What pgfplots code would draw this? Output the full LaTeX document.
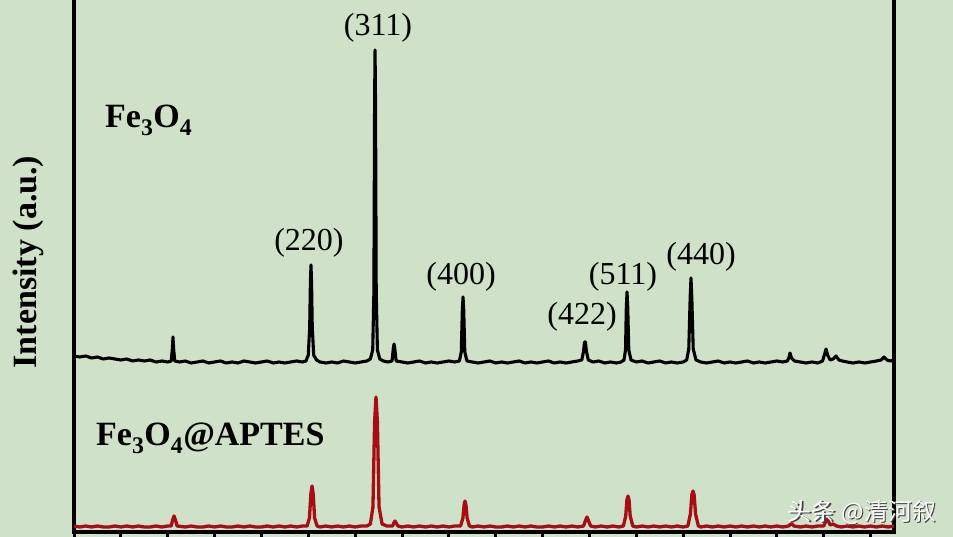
\documentclass[border=0pt]{standalone}
\usepackage{pgfplots}
\pgfplotsset{compat=1.18}
\usepackage{fontspec}
\setmainfont{Liberation Serif}
\newfontfamily\cjk{Noto Sans CJK SC}
\definecolor{bg}{RGB}{207,225,200}
\definecolor{xrdred}{RGB}{168,12,20}
\begin{document}
\begin{tikzpicture}
\useasboundingbox (0,0) rectangle (953pt,537pt);
\fill[bg] (0,0) rectangle (953pt,537pt);
\begin{axis}[
    at={(74pt,5pt)}, anchor=south west,
    scale only axis,
    width=820pt, height=545pt,
    xmin=10, xmax=80,
    ymin=0, ymax=545,
    axis line style={line width=3.5pt},
    xtick={10,14,...,78},
    xticklabels={},
    ytick=\empty,
    xtick pos=left,
    tick align=outside,
    major tick length=12pt,
    tick style={line width=3pt, black},
    clip=false
]
% Fe3O4
\addplot[black, line width=3.1pt, line join=round, mark=none] coordinates {
(10.0,176)(10.5,175)(11.0,176)(11.5,174)(12.0,175)(12.5,173)(13.0,174)(13.5,173)(14.0,172)(14.5,173)(15.0,171)(15.5,172)(16.0,171)(16.5,172)(17.0,170)(17.5,171)(18.0,170)(18.3,171)(18.4,184)(18.45,195)(18.5,184)(18.6,171)(19.0,170)(19.5,171)(20.0,169)(20.5,170)(21.0,171)(21.5,169)(22.0,170)(22.5,171)(23.0,169)(23.5,170)(24.0,169)(24.5,171)(25.0,170)(25.5,169)(26.0,170)(26.5,171)(27.0,169)(27.5,170)(28.0,169)(28.5,170)(29.0,171)(29.5,170)(29.8,171)(30.0,177)(30.12,205)(30.18,250)(30.23,267)(30.28,250)(30.34,205)(30.46,177)(30.7,172)(31.0,170)(31.5,169)(32.0,170)(32.5,169)(33.0,171)(33.5,170)(34.0,169)(34.5,170)(35.0,171)(35.3,173)(35.5,182)(35.6,240)(35.66,430)(35.70,482)(35.74,430)(35.8,240)(35.9,182)(36.1,173)(36.4,171)(36.8,170)(37.15,171)(37.26,184)(37.32,188)(37.38,184)(37.5,171)(38.0,170)(38.5,169)(39.0,170)(39.5,171)(40.0,169)(40.5,170)(41.0,169)(41.5,170)(42.0,171)(42.5,170)(42.9,171)(43.06,180)(43.15,222)(43.21,235)(43.27,222)(43.36,180)(43.55,171)(44.0,170)(44.5,169)(45.0,170)(45.5,171)(46.0,169)(46.5,170)(47.0,169)(47.5,170)(48.0,171)(48.5,169)(49.0,170)(49.5,169)(50.0,170)(50.5,171)(51.0,169)(51.5,170)(52.0,169)(52.5,170)(53.0,171)(53.35,172)(53.5,181)(53.58,190)(53.66,190)(53.74,181)(53.9,172)(54.3,170)(54.8,171)(55.3,169)(55.8,170)(56.3,169)(56.7,170)(56.95,172)(57.08,182)(57.15,225)(57.21,240)(57.27,225)(57.36,182)(57.55,172)(58.0,170)(58.5,171)(59.0,169)(59.5,170)(60.0,171)(60.5,169)(61.0,170)(61.5,169)(62.0,170)(62.3,172)(62.48,183)(62.6,235)(62.67,254)(62.74,235)(62.86,183)(63.1,172)(63.5,170)(64.0,169)(64.5,170)(65.0,171)(65.5,169)(66.0,170)(66.5,169)(67.0,170)(67.5,171)(68.0,169)(68.5,170)(69.0,169)(69.5,170)(70.0,171)(70.5,170)(70.9,171)(71.05,175)(71.12,179)(71.25,174)(71.5,171)(72.0,170)(72.5,169)(73.0,170)(73.5,169)(73.9,171)(74.08,178)(74.2,183)(74.33,177)(74.55,172)(74.8,173)(75.05,176)(75.3,172)(75.6,171)(76.0,170)(76.5,169)(77.0,170)(77.5,169)(78.0,170)(78.5,171)(78.9,172)(79.15,175)(79.4,172)(79.7,171)(80.0,172)
};
% Fe3O4@APTES
\addplot[xrdred, line width=3.3pt, line join=round, mark=none] coordinates {
(10.0,6)(10.5,5)(11.0,6)(11.5,5)(12.0,6)(12.5,5)(13.0,5)(13.5,6)(14.0,5)(14.5,6)(15.0,5)(15.5,6)(16.0,5)(16.5,5)(17.0,6)(17.5,5)(18.0,6)(18.3,6)(18.42,12)(18.54,16)(18.66,12)(18.8,6)(19.5,5)(20.0,6)(20.5,5)(21.0,5)(21.5,6)(22.0,5)(22.5,6)(23.0,5)(23.5,5)(24.0,6)(24.5,5)(25.0,6)(25.5,5)(26.0,5)(26.5,6)(27.0,5)(27.5,6)(28.0,5)(28.5,6)(29.0,5)(29.5,6)(29.9,6)(30.1,14)(30.22,38)(30.32,46)(30.42,38)(30.54,14)(30.75,6)(31.0,5)(31.5,6)(32.0,5)(32.5,6)(33.0,5)(33.5,6)(34.0,5)(34.5,6)(35.0,6)(35.3,8)(35.52,25)(35.66,110)(35.78,135)(35.9,110)(36.04,25)(36.3,8)(36.7,6)(37.2,6)(37.3,9)(37.4,11)(37.5,9)(37.65,6)(38.0,5)(38.5,6)(39.0,5)(39.5,6)(40.0,5)(40.5,6)(41.0,5)(41.5,6)(42.0,5)(42.5,6)(43.0,6)(43.2,14)(43.3,27)(43.38,31)(43.46,27)(43.56,14)(43.75,6)(44.0,5)(44.5,6)(45.0,5)(45.5,6)(46.0,5)(46.5,5)(47.0,6)(47.5,5)(48.0,6)(48.5,5)(49.0,6)(49.5,5)(50.0,5)(50.5,6)(51.0,5)(51.5,6)(52.0,5)(52.5,6)(53.0,5)(53.5,6)(53.65,11)(53.79,15)(53.93,11)(54.1,6)(54.5,5)(55.0,6)(55.5,5)(56.0,6)(56.5,5)(56.9,6)(57.1,16)(57.2,32)(57.29,36)(57.38,32)(57.48,16)(57.7,6)(58.0,5)(58.5,6)(59.0,5)(59.5,6)(60.0,5)(60.5,6)(61.0,5)(61.5,6)(62.0,5)(62.4,6)(62.62,18)(62.74,37)(62.84,41)(62.94,37)(63.06,18)(63.3,6)(63.5,5)(64.0,6)(64.5,5)(65.0,6)(65.5,5)(66.0,6)(66.5,5)(67.0,6)(67.5,5)(68.0,6)(68.5,5)(69.0,6)(69.5,5)(70.0,6)(70.5,5)(71.0,6)(71.2,8)(71.29,8)(71.45,6)(72.0,5)(72.5,6)(73.0,5)(73.5,6)(74.0,6)(74.18,11)(74.28,13)(74.38,11)(74.55,7)(74.8,8)(75.1,6)(75.5,5)(76.0,6)(76.5,5)(77.0,6)(77.5,5)(78.0,6)(78.5,5)(79.0,6)(79.5,5)(80.0,6)
};
% peak indices
\begin{scope}[every node/.style={inner sep=0pt, font=\fontsize{32}{36}\selectfont}]
\node at (axis cs:35.95,504) {(311)};
\node at (axis cs:30.06,289) {(220)};
\node at (axis cs:43.04,255) {(400)};
\node at (axis cs:53.37,215) {(422)};
\node at (axis cs:56.87,255) {(511)};
\node at (axis cs:63.53,275) {(440)};
\end{scope}
\end{axis}
% sample names and axis title
\node[anchor=base west, inner sep=0pt, font=\bfseries\fontsize{34}{40}\selectfont] at (105pt,409pt) {Fe\textsubscript{3}O\textsubscript{4}};
\node[anchor=base west, inner sep=0pt, font=\bfseries\fontsize{34}{40}\selectfont] at (96pt,91pt) {Fe\textsubscript{3}O\textsubscript{4}@APTES};
\node[rotate=90, inner sep=0pt, font=\bfseries\fontsize{34}{40}\selectfont] at (28pt,275pt) {Intensity (a.u.)};
% watermark
\node[font=\cjk\fontsize{24}{28}\selectfont, text=black!75] at (863.5pt,23.5pt) {头条 @清河叙};
\node[font=\cjk\fontsize{24}{28}\selectfont, text=white] at (862pt,25pt) {头条 @清河叙};
\end{tikzpicture}
\end{document}
